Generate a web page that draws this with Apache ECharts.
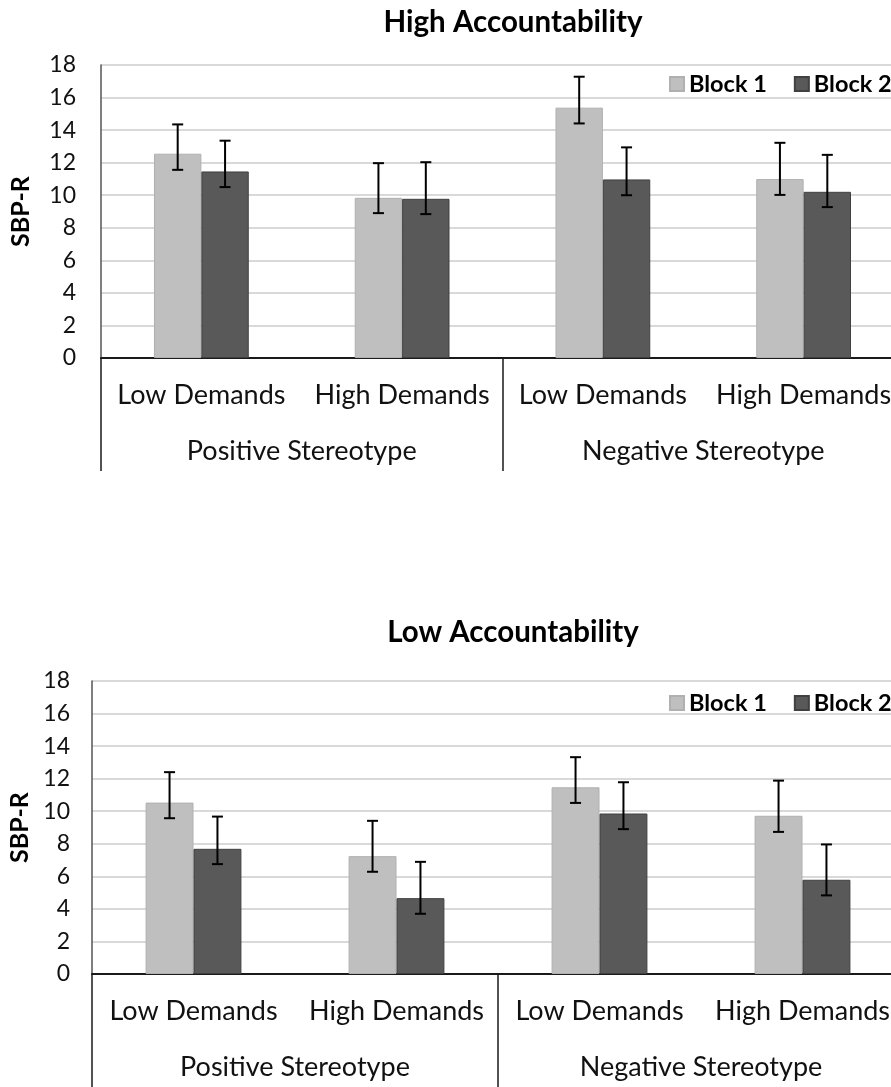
<!DOCTYPE html>
<html>
<head>
<meta charset="utf-8">
<script src="https://cdn.jsdelivr.net/npm/echarts@6/dist/echarts.min.js"></script>
<style>
html,body{margin:0;padding:0;background:#fff;}
#chart{width:891px;height:1087px;}
</style>
</head>
<body>
<div id="chart"></div>
<script>
var categories = ['Low Demands', 'High Demands', 'Low Demands', 'High Demands'];
var groups = ['Positive Stereotype', 'Negative Stereotype'];
var seriesNames = ['Block 1', 'Block 2'];
var titles = ['High Accountability', 'Low Accountability'];
var yTicks = [0, 2, 4, 6, 8, 10, 12, 14, 16, 18];

// High Accountability
var highBlock1 = [12.55, 9.84, 15.38, 10.99];
var highBlock1Upper = [14.35, 11.97, 17.28, 13.22];
var highBlock1Lower = [11.56, 8.90, 14.41, 10.02];
var highBlock2 = [11.46, 9.78, 10.97, 10.21];
var highBlock2Upper = [13.35, 12.03, 12.94, 12.48];
var highBlock2Lower = [10.50, 8.84, 10.00, 9.27];

// Low Accountability
var lowBlock1 = [10.53, 7.24, 11.47, 9.72];
var lowBlock1Upper = [12.40, 9.41, 13.32, 11.88];
var lowBlock1Lower = [9.57, 6.28, 10.51, 8.73];
var lowBlock2 = [7.69, 4.66, 9.86, 5.79];
var lowBlock2Upper = [9.67, 6.89, 11.78, 7.96];
var lowBlock2Lower = [6.75, 3.70, 8.90, 4.83];

var FONT = 'Lato';
var BAR_FRAC = 0.236;
var colors = ['#bfbfbf', '#595959'];

function errData(lower, upper) {
  return lower.map(function (l, i) { return [i, l, upper[i]]; });
}

function errSeries(xi, yi, lower, upper, side) {
  return {
    type: 'custom',
    xAxisIndex: xi,
    yAxisIndex: yi,
    silent: true,
    z: 10,
    encode: { x: 0, y: [1, 2] },
    data: errData(lower, upper),
    renderItem: function (params, api) {
      var band = api.size([1, 0])[0];
      var cx = api.coord([api.value(0), 0])[0] + side * band * BAR_FRAC / 2;
      var yLo = api.coord([api.value(0), api.value(1)])[1];
      var yHi = api.coord([api.value(0), api.value(2)])[1];
      var cap = 5.5;
      var st = { stroke: '#000', lineWidth: 2 };
      return {
        type: 'group',
        children: [
          { type: 'line', shape: { x1: cx, y1: yLo, x2: cx, y2: yHi }, style: st },
          { type: 'line', shape: { x1: cx - cap, y1: yHi, x2: cx + cap, y2: yHi }, style: st },
          { type: 'line', shape: { x1: cx - cap, y1: yLo, x2: cx + cap, y2: yLo }, style: st }
        ]
      };
    }
  };
}

function barSeries(name, xi, yi, data, color, border) {
  return {
    name: name,
    type: 'bar',
    xAxisIndex: xi,
    yAxisIndex: yi,
    data: data,
    barGap: '0%',
    barCategoryGap: '52.8%',
    itemStyle: { color: color, borderColor: border, borderWidth: 1 },
    animation: false
  };
}

var grids = [
  { left: 101, top: 65, width: 803, height: 293, outerBoundsMode: 'none', containLabel: false },
  { left: 92, top: 681, width: 812, height: 293, outerBoundsMode: 'none', containLabel: false }
];

var titleStyle = { fontFamily: FONT, fontWeight: 'bold', fontSize: 29.5, color: '#000' };
var legendStyle = { fontFamily: FONT, fontWeight: 'bold', fontSize: 23.5, color: '#000' };

var option = {
  animation: false,
  backgroundColor: '#fff',
  textStyle: { fontFamily: FONT },
  title: [
    { text: titles[0], left: 513, top: 7, textAlign: 'center', padding: 0, textStyle: titleStyle },
    { text: titles[1], left: 513, top: 617, textAlign: 'center', padding: 0, textStyle: titleStyle }
  ],
  legend: [
    { data: seriesNames, orient: 'horizontal', left: 669, top: 72, width: 320, padding: 0, icon: 'rect',
      itemWidth: 14, itemHeight: 14, itemGap: 27, textStyle: legendStyle },
    { data: seriesNames, orient: 'horizontal', left: 669, top: 691, width: 320, padding: 0, icon: 'rect',
      itemWidth: 14, itemHeight: 14, itemGap: 27, textStyle: legendStyle }
  ],
  grid: [grids[0], grids[1], grids[0], grids[1]],
  xAxis: [0, 1].map(function (g) {
    return {
      type: 'category', gridIndex: g, data: categories, position: 'bottom',
      axisLine: { show: true, lineStyle: { color: '#1a1a1a', width: 2 } },
      axisTick: { show: false },
      axisLabel: { fontFamily: FONT, fontSize: 27, color: '#111', margin: 24, interval: 0 }
    };
  }).concat([2, 3].map(function (g) {
    return {
      type: 'category', gridIndex: g, data: groups, position: 'bottom',
      axisLine: { show: false },
      axisTick: { show: true, length: g === 2 ? 113 : 130, lineStyle: { color: '#1a1a1a', width: 1.5 } },
      axisLabel: { fontFamily: FONT, fontSize: 27, color: '#111', margin: 80, interval: 0 }
    };
  })),
  yAxis: [
    { gridIndex: 0, type: 'value', min: yTicks[0], max: yTicks[yTicks.length - 1], interval: 2,
      name: 'SBP-R', nameLocation: 'middle', nameGap: 68, nameRotate: 90,
      nameTextStyle: { fontFamily: FONT, fontWeight: 'bold', fontSize: 25, color: '#000' },
      axisLine: { show: true, lineStyle: { color: '#555', width: 1.5 } },
      axisTick: { show: false },
      splitLine: { lineStyle: { color: '#d9d9d9', width: 2 } },
      axisLabel: { fontFamily: FONT, fontSize: 23, color: '#111', margin: 25 } },
    { gridIndex: 1, type: 'value', min: yTicks[0], max: yTicks[yTicks.length - 1], interval: 2,
      name: 'SBP-R', nameLocation: 'middle', nameGap: 60, nameRotate: 90,
      nameTextStyle: { fontFamily: FONT, fontWeight: 'bold', fontSize: 25, color: '#000' },
      axisLine: { show: true, lineStyle: { color: '#555', width: 1.5 } },
      axisTick: { show: false },
      splitLine: { lineStyle: { color: '#d9d9d9', width: 2 } },
      axisLabel: { fontFamily: FONT, fontSize: 23, color: '#111', margin: 22 } },
    { gridIndex: 2, type: 'value', show: false, min: 0, max: 18 },
    { gridIndex: 3, type: 'value', show: false, min: 0, max: 18 }
  ],
  series: [
    barSeries(seriesNames[0], 0, 0, highBlock1, colors[0], '#b0b0b0'),
    barSeries(seriesNames[1], 0, 0, highBlock2, colors[1], '#404040'),
    barSeries(seriesNames[0], 1, 1, lowBlock1, colors[0], '#b0b0b0'),
    barSeries(seriesNames[1], 1, 1, lowBlock2, colors[1], '#404040'),
    errSeries(0, 0, highBlock1Lower, highBlock1Upper, -1),
    errSeries(0, 0, highBlock2Lower, highBlock2Upper, 1),
    errSeries(1, 1, lowBlock1Lower, lowBlock1Upper, -1),
    errSeries(1, 1, lowBlock2Lower, lowBlock2Upper, 1)
  ]
};

var chart = echarts.init(document.getElementById('chart'), null, { renderer: 'canvas' });
chart.setOption(option);
</script>
</body>
</html>
